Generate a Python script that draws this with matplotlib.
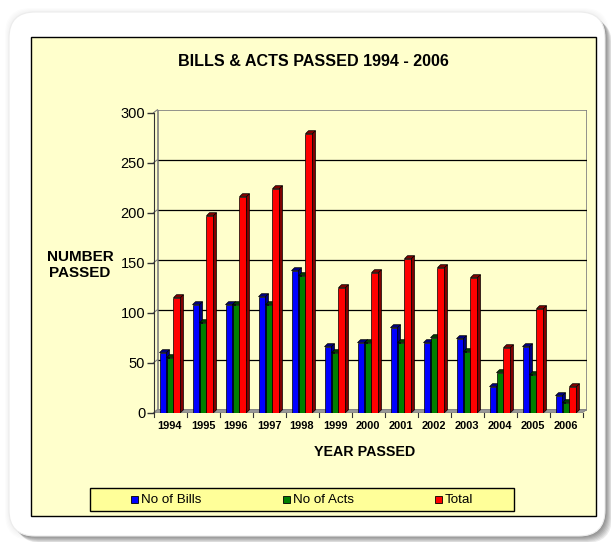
import matplotlib.pyplot as plt
from matplotlib.patches import Rectangle, Polygon, FancyBboxPatch
from matplotlib.transforms import IdentityTransform

plt.rcParams['font.family'] = ['Liberation Sans', 'DejaVu Sans']

# Data
years = ['1994', '1995', '1996', '1997', '1998', '1999', '2000',
         '2001', '2002', '2003', '2004', '2005', '2006']
bills = [60, 108, 108, 116, 142, 66, 70, 85, 70, 74, 26, 66, 17]
acts = [55, 90, 108, 108, 137, 60, 70, 70, 75, 61, 40, 38, 10]
total = [115, 197, 216, 224, 279, 125, 140, 154, 145, 135, 65, 104, 26]

series_names = ['No of Bills', 'No of Acts', 'Total']
series_values = [bills, acts, total]
front_colors = ['#0000FF', '#008000', '#FF0000']
dark_colors = ['#000080', '#004000', '#800000']

W, H = 611, 542
fig = plt.figure(figsize=(W / 100, H / 100), dpi=100)
fig.patch.set_facecolor('white')
px = IdentityTransform()


def rect_px(x0, y0, x1, y1, **kw):
    # rectangle given in top-left pixel coordinates
    return Rectangle((x0, H - y1), x1 - x0, y1 - y0, transform=px, **kw)


def card_px(x0, y0, x1, y1, **kw):
    # rounded card in top-left pixel coordinates
    return FancyBboxPatch((x0, H - y1), x1 - x0, y1 - y0,
                          boxstyle='round,pad=0,rounding_size=26',
                          transform=px, **kw)


# card with soft shadow (light halo, darker towards bottom-right)
for i in range(1, 5):
    fig.patches.append(card_px(9 - i, 12 - i, 605 + i, 536 + i,
                               facecolor='#000000', edgecolor='none', alpha=0.012))
for i in range(1, 8):
    fig.patches.append(card_px(9 + i, 12 + i, 605 + i, 536 + i,
                               facecolor='#303030', edgecolor='none', alpha=0.09))
fig.patches.append(card_px(9, 12, 605, 536, facecolor='white',
                           edgecolor='#ececec', lw=0.8))

# yellow chart area
fig.patches.append(rect_px(31, 37, 596, 516, facecolor='#FFFFCC',
                           edgecolor='black', lw=1))

fig.text(313 / W, 1 - 62 / H, 'BILLS & ACTS PASSED 1994 - 2006',
         ha='center', va='center', fontsize=11.6, fontweight='bold')

# axes: one category = 33 px, one unit = 1 px
ax = fig.add_axes([153.5 / W, 1 - 412.7 / H, 433 / W, 303 / H])
ax.set_zorder(5)
ax.patch.set_visible(False)
wall_dx, wall_dy = 4 / 33, 3
bar_dx, bar_dy = 3 / 33, 3
ax.set_xlim(-0.5, 12.5 + wall_dx)
ax.set_ylim(0, 303)

for s in ['top', 'right', 'bottom']:
    ax.spines[s].set_visible(False)
ax.spines['left'].set_bounds(0, 300)
ax.spines['left'].set_color('#333333')

yticks = list(range(0, 301, 50))
ax.set_yticks(yticks)
ax.tick_params(axis='y', direction='out', length=5, width=1, color='#333333',
               labelsize=10.5, pad=1)
ax.set_xticks(range(len(years)))
ax.set_xticklabels(years, fontsize=7.9, fontweight='bold')
ax.tick_params(axis='x', length=0, pad=6)

# back wall, gridlines and floor
ax.add_patch(Rectangle((-0.5 + wall_dx, wall_dy), 13, 300, facecolor='none',
                       edgecolor='#808080', lw=1.2, zorder=1))
ax.hlines([v + wall_dy for v in yticks[1:-1]], -0.5 + wall_dx, 12.5 + wall_dx,
          color='black', lw=0.9, zorder=1)
for v in yticks:
    ax.plot([-0.5, -0.5 + wall_dx], [v, v + wall_dy], color='#808080', lw=0.8,
            zorder=1, clip_on=False)
ax.add_patch(Polygon([(-0.5, 0), (12.5, 0), (12.5 + wall_dx, wall_dy),
                      (-0.5 + wall_dx, wall_dy)], closed=True,
                     facecolor='#999999', edgecolor='#808080', lw=0.6, zorder=2))
for b in range(len(years) + 1):
    ax.plot([b - 0.5, b - 0.5], [0, -4], color='#333333', lw=0.8, clip_on=False)

# 3D-looking bars
bw = 0.212
for k, vals in enumerate(series_values):
    xs = [i + (k - 1) * bw for i in range(len(years))]
    ax.bar(xs, vals, width=bw, color=front_colors[k], edgecolor='black',
           lw=0.5, zorder=3 + k)
    for x, h in zip(xs, vals):
        l, r = x - bw / 2, x + bw / 2
        ax.add_patch(Polygon([(l, h), (r, h), (r + bar_dx, h + bar_dy),
                              (l + bar_dx, h + bar_dy)], closed=True,
                             facecolor=dark_colors[k], edgecolor='black',
                             lw=0.5, zorder=3 + k))
        ax.add_patch(Polygon([(r, 0), (r + bar_dx, bar_dy), (r + bar_dx, h + bar_dy),
                              (r, h)], closed=True, facecolor=dark_colors[k],
                             edgecolor='black', lw=0.5, zorder=3 + k))

fig.text(80 / W, 1 - 265 / H, 'NUMBER\nPASSED', ha='center', va='center',
         fontsize=11, fontweight='bold', multialignment='center', linespacing=1.25)
fig.text(365 / W, 1 - 452 / H, 'YEAR PASSED', ha='center', va='center',
         fontsize=10.3, fontweight='bold')

# legend box
fig.patches.append(rect_px(90, 488, 514, 511, facecolor='#FFFF99',
                           edgecolor='black', lw=1))
for k, name in enumerate(series_names):
    x0 = 131 + k * 152
    fig.patches.append(rect_px(x0, 496, x0 + 7, 503, facecolor=front_colors[k],
                               edgecolor='black', lw=0.6))
    fig.text((x0 + 10) / W, 1 - 500 / H, name, ha='left', va='center', fontsize=9.6)

fig.savefig('out.png', dpi=100, facecolor='white')
